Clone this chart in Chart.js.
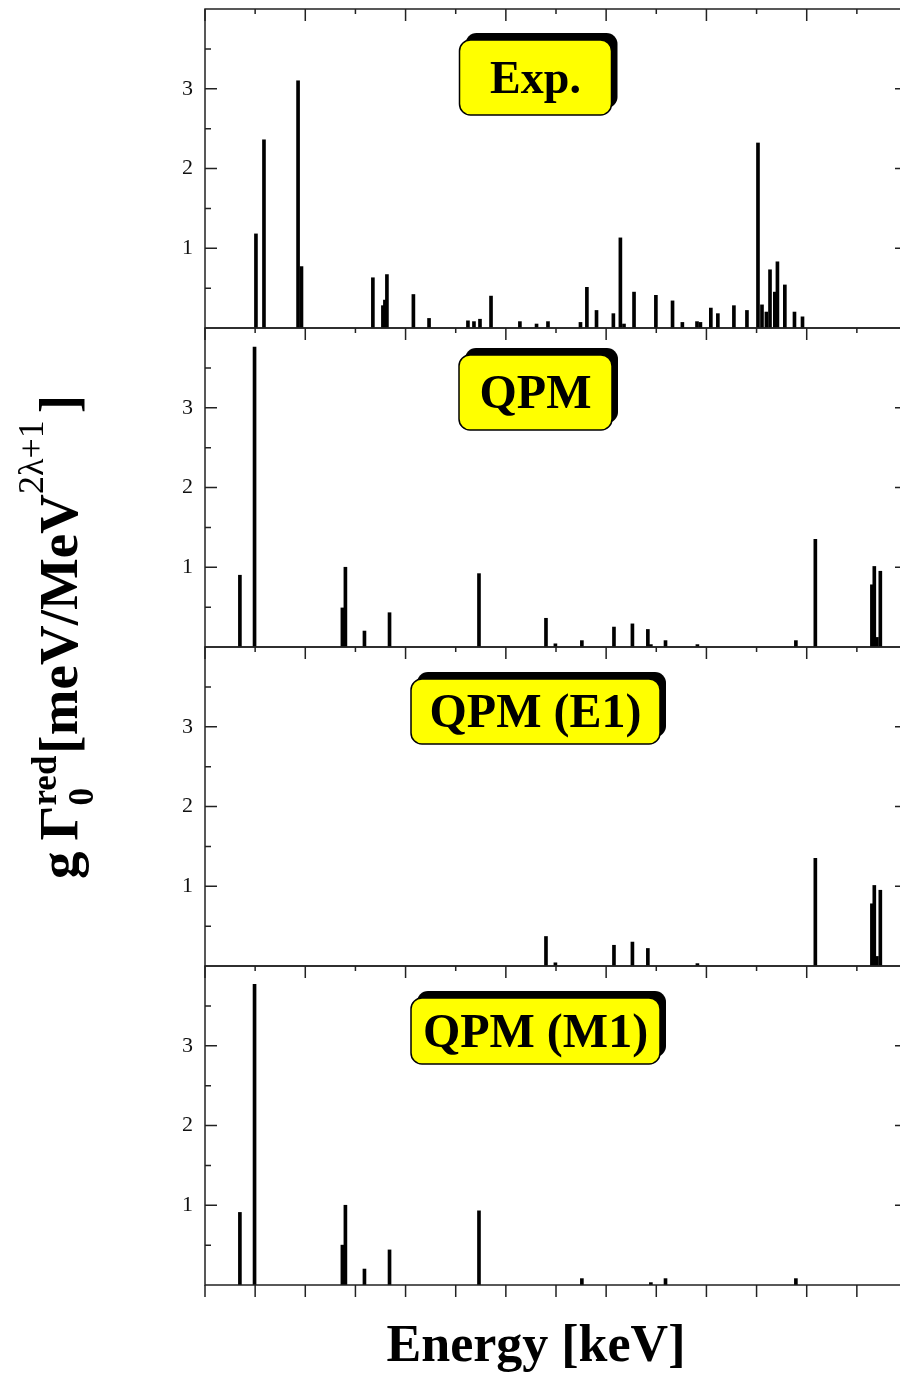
<!DOCTYPE html>
<html><head><meta charset="utf-8">
<script src="https://cdn.jsdelivr.net/npm/chart.js@4.4.1/dist/chart.umd.min.js"></script>
<style>
html,body{margin:0;padding:0;background:#fff;overflow:hidden;width:900px;height:1373px;}
#wrap{position:relative;width:910px;height:1373px;}
canvas{position:absolute;left:0;top:0;}
</style></head><body><div id="wrap">
<canvas id="c0" width="910" height="1373"></canvas>
<canvas id="c1" width="910" height="1373"></canvas>
<canvas id="c2" width="910" height="1373"></canvas>
<canvas id="c3" width="910" height="1373"></canvas>
</div>
<script>
// ---- data (energies in keV, reduced widths g*Gamma0^red) ----
const expEnergy = [2254,2294,2464,2481,2837,2887,2897,2907,3039,3117,3311,3341,3371,3426,3570,3653,3710,3872,3904,3952,4036,4071,4089,4139,4248,4331,4380,4453,4470,4522,4557,4637,4702,4757,4777,4799,4817,4841,4854,4891,4939,4979];
const expValue  = [1.18,2.36,3.10,0.77,0.63,0.28,0.35,0.67,0.42,0.12,0.09,0.08,0.11,0.40,0.08,0.05,0.08,0.07,0.51,0.22,0.18,1.13,0.05,0.45,0.41,0.34,0.07,0.08,0.07,0.25,0.18,0.28,0.22,2.32,0.29,0.20,0.73,0.45,0.83,0.54,0.20,0.14];
const qpmEnergy = [2174,2247,2685,2700,2795,2920,3366,3700,3747,3879,4039,4131,4208,4223,4296,4455,4946,5043,5325,5337,5350,5367];
const qpmValue  = [0.90,3.76,0.49,1.00,0.20,0.43,0.92,0.36,0.04,0.08,0.25,0.29,0.22,0.03,0.08,0.03,0.08,1.35,0.78,1.01,0.12,0.95];
const e1Energy  = [3700,3747,4039,4131,4208,4455,5043,5325,5337,5350,5367];
const e1Value   = [0.37,0.04,0.26,0.30,0.22,0.03,1.35,0.78,1.01,0.12,0.95];
const m1Energy  = [2174,2247,2685,2700,2795,2920,3366,3879,4223,4296,4946];
const m1Value   = [0.91,3.77,0.50,1.00,0.20,0.44,0.93,0.08,0.03,0.08,0.08];
const panelLabels = ['Exp.', 'QPM', 'QPM (E1)', 'QPM (M1)'];
const yTickValues = [1, 2, 3];
const yTickLabels = ['1', '2', '3'];
const yMinorTicks = [0.5, 1.5, 2.5, 3.5];
const xMajorTicks = [2000, 2500, 3000, 3500, 4000, 4500, 5000, 5500];
const xMinorTicks = [2250, 2750, 3250, 3750, 4250, 4750, 5250];
const xTitle = 'Energy [keV]';
const yTitleParts = ['g', 'Γ', 'red', '0', '[meV/MeV', '2λ+1', ']'];

// ---- layout / style ----
const SERIF = '"Liberation Serif", "Times New Roman", serif';
const panelTops = [9, 328, 647, 966];
const panelBottoms = [328, 647, 966, 1285];
const boxStyle = [
  {cy: 77.5, w: 152, h: 75, font: 46},
  {cy: 392.5, w: 153, h: 75, font: 48},
  {cy: 711.5, w: 249, h: 65, font: 48},
  {cy: 1031, w: 249, h: 66, font: 48}
];
const BOX_CX = 535.5;

function roundRect(ctx, x, y, w, h, r) {
  ctx.beginPath();
  ctx.moveTo(x + r, y);
  ctx.arcTo(x + w, y, x + w, y + h, r);
  ctx.arcTo(x + w, y + h, x, y + h, r);
  ctx.arcTo(x, y + h, x, y, r);
  ctx.arcTo(x, y, x + w, y, r);
  ctx.closePath();
}

function drawYTitle(ctx) {
  const F = 55, S = 35, S2 = 36;
  const bold = s => `bold ${s}px ${SERIF}`;
  const reg = s => `${s}px ${SERIF}`;
  ctx.save();
  const seq = [
    {t: yTitleParts[0], f: bold(F), dy: 0},
    {gap: 11},
    {t: yTitleParts[1], f: bold(F), dy: 0},
    {stack: [{t: yTitleParts[2], f: bold(S), dy: -21}, {t: yTitleParts[3], f: bold(S), dy: 16}]},
    {gap: 2},
    {t: yTitleParts[4], f: bold(F), dy: 0},
    {t: yTitleParts[5], f: reg(S2), dy: -34},
    {gap: 7},
    {t: yTitleParts[6], f: bold(F), dy: 0}
  ];
  let total = 0;
  seq.forEach(p => {
    if (p.gap) { p.w = p.gap; }
    else if (p.stack) { p.w = Math.max(...p.stack.map(q => { ctx.font = q.f; return ctx.measureText(q.t).width; })); }
    else { ctx.font = p.f; p.w = ctx.measureText(p.t).width; }
    total += p.w;
  });
  ctx.translate(77, 637);
  ctx.rotate(-Math.PI / 2);
  ctx.fillStyle = '#000';
  ctx.textBaseline = 'alphabetic';
  ctx.textAlign = 'left';
  let cx = -total / 2;
  seq.forEach(p => {
    if (p.stack) { p.stack.forEach(q => { ctx.font = q.f; ctx.fillText(q.t, cx, q.dy); }); }
    else if (p.t) { ctx.font = p.f; ctx.fillText(p.t, cx, p.dy); }
    cx += p.w;
  });
  ctx.restore();
}

const panelPlugin = {
  id: 'panel',
  afterDatasetsDraw(chart, args, o) {
    const ctx = chart.ctx, a = chart.chartArea, x = chart.scales.x, y = chart.scales.y;
    ctx.save();
    ctx.strokeStyle = '#222';
    ctx.lineWidth = 1.5;
    ctx.strokeRect(a.left, a.top, a.right - a.left, a.bottom - a.top);
    ctx.beginPath();
    const tick = (x1, y1, x2, y2) => { ctx.moveTo(x1, y1); ctx.lineTo(x2, y2); };
    yTickValues.forEach(v => { const p = y.getPixelForValue(v); tick(a.left, p, a.left + 12, p); tick(a.right, p, a.right - 12, p); });
    yMinorTicks.forEach(v => { const p = y.getPixelForValue(v); tick(a.left, p, a.left + 6, p); });
    xMajorTicks.forEach(v => { const p = x.getPixelForValue(v); tick(p, a.top, p, a.top + 12); });
    xMinorTicks.forEach(v => { const p = x.getPixelForValue(v); tick(p, a.top, p, a.top + 5); });
    if (o.last) {
      xMajorTicks.concat(xMinorTicks).forEach(v => { const p = x.getPixelForValue(v); tick(p, a.bottom, p, a.bottom + 12); });
    }
    ctx.stroke();

    // label box
    const b = boxStyle[o.index];
    const bx = BOX_CX - b.w / 2, by = b.cy - b.h / 2;
    ctx.fillStyle = '#000';
    roundRect(ctx, bx + 6, by - 7, b.w, b.h, 11);
    ctx.fill();
    ctx.fillStyle = '#ffff00';
    roundRect(ctx, bx, by, b.w, b.h, 11);
    ctx.fill();
    ctx.lineWidth = 1.5;
    ctx.strokeStyle = '#000';
    ctx.stroke();
    ctx.fillStyle = '#000';
    ctx.font = `bold ${b.font}px ${SERIF}`;
    ctx.textAlign = 'center';
    ctx.textBaseline = 'alphabetic';
    ctx.fillText(panelLabels[o.index], BOX_CX, b.cy + b.font * 0.33);

    if (o.last) {
      ctx.font = `bold 52px ${SERIF}`;
      ctx.fillText(xTitle, 536, 1361);
      drawYTitle(ctx);
    }
    ctx.restore();
  }
};

const series = [[expEnergy, expValue], [qpmEnergy, qpmValue], [e1Energy, e1Value], [m1Energy, m1Value]];

series.forEach(([xs, ys], i) => {
  new Chart(document.getElementById('c' + i), {
    type: 'bar',
    data: {
      datasets: [{
        label: panelLabels[i],
        data: xs.map((e, k) => ({x: e, y: ys[k]})),
        backgroundColor: '#000',
        borderWidth: 0,
        barThickness: 3
      }]
    },
    options: {
      responsive: false,
      devicePixelRatio: 1,
      animation: false,
      events: [],
      layout: {padding: {top: panelTops[i], bottom: 1373 - panelBottoms[i], left: 0, right: 3}},
      plugins: {legend: {display: false}, tooltip: {enabled: false}, panel: {index: i, last: i === 3}},
      scales: {
        x: {type: 'linear', min: 2000, max: 5500, offset: false, display: false},
        y: {
          type: 'linear', min: 0, max: 4,
          afterFit: s => { s.width = 205; s.paddingTop = 0; s.paddingBottom = 0; },
          afterBuildTicks: s => { s.ticks = yTickValues.map(v => ({value: v})); },
          grid: {display: false, drawTicks: false},
          border: {display: false},
          ticks: {
            autoSkip: false,
            padding: 12,
            color: '#111',
            font: {family: SERIF, size: 22},
            callback: v => yTickLabels[yTickValues.indexOf(v)] ?? ''
          }
        }
      }
    },
    plugins: [panelPlugin]
  });
});
</script>
</body></html>
